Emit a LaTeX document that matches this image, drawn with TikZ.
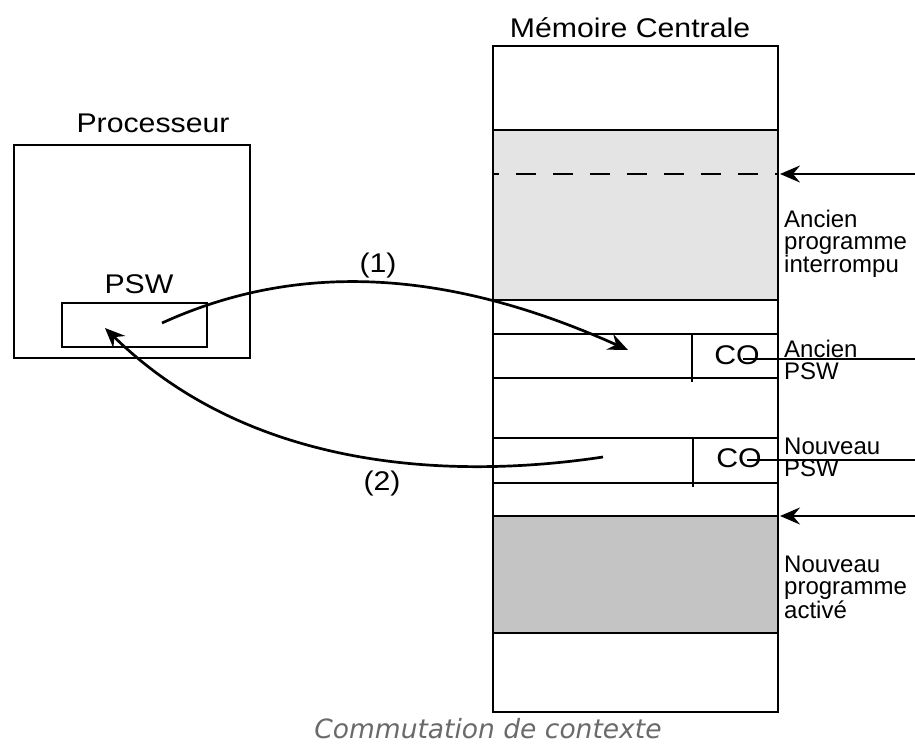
\documentclass[tikz,border=0pt]{standalone}
\usepackage{fontspec}
\setmainfont{Liberation Sans}
\newfontfamily\capfont{DejaVu Sans}
\usetikzlibrary{arrows.meta}

\definecolor{lightfill}{HTML}{E4E4E4}
\definecolor{darkfill}{HTML}{C4C4C4}
\definecolor{capgrey}{HTML}{6A6A6A}

\tikzset{
  wire/.style={line width=2.7pt, draw=black},
  tip/.style={-{Stealth[length=20pt,width=17pt,inset=7pt]}},
  biglabel/.style={inner sep=0pt, xscale=1.12, font=\fontsize{27}{30}\selectfont},
  sidelabel/.style={inner sep=0pt, align=left, anchor=north west,
    font=\fontsize{24}{22}\selectfont},
}

\begin{document}
\begin{tikzpicture}[x=1pt, y=-1pt]
\useasboundingbox (0,0) rectangle (915,745);

% ---- central memory ----
\fill[lightfill] (493,130) rectangle (778,300);
\fill[darkfill]  (493,516) rectangle (778,633);
\draw[wire] (493,46) rectangle (778,712);
\foreach \yy in {130,300,334,378,438,483,516,633}
  \draw[wire] (493,\yy) -- (778,\yy);
\draw[wire] (692,334) -- (692,382);
\draw[wire] (693,438) -- (693,487);
\draw[wire, dash pattern=on 20pt off 17pt, dash phase=14pt] (493,174) -- (778,174);

\node[biglabel, anchor=base] (mem) at (630,37) {Mémoire Centrale};

% program counters
\node[biglabel, anchor=base] (co1) at (737,364) {CO};
\node[biglabel, anchor=base] (co2) at (739,467) {CO};
\coordinate (co1r) at (743,359);
\coordinate (co2r) at (747,460);
\coordinate (e1) at (915,359);
\coordinate (e2) at (915,460);
\draw[wire] (co1r) -- (e1);
\draw[wire] (co2r) -- (e2);

% incoming pointers
\coordinate (in1) at (915,174);
\coordinate (p1) at (780,174);
\coordinate (in2) at (915,516);
\coordinate (p2) at (780,516);
\draw[wire, tip] (in1) -- (p1);
\draw[wire, tip] (in2) -- (p2);

% side labels
\node[sidelabel] (lab1) at (784,210) {Ancien\\programme\\interrompu};
\node[sidelabel] (lab2) at (784,340) {Ancien\\PSW};
\node[sidelabel] (lab3) at (784,438) {Nouveau\\PSW};
\node[sidelabel] (lab4) at (784,556) {Nouveau\\programme\\activé};

% ---- processor ----
\draw[wire] (14,145) rectangle (250,358);
\draw[wire] (62,303) rectangle (207,347);
\node[biglabel, anchor=base] (proc) at (153,132) {Processeur};
\node[biglabel, anchor=base] (psw) at (139,293) {PSW};

% ---- context switch transfers ----
\coordinate (s1) at (162,323);
\coordinate (t1) at (628,350);
\coordinate (s2) at (603,457);
\coordinate (t2) at (105,328);
\draw[wire, tip] (s1) .. controls (300,260) and (450,270) .. (t1);
\draw[wire, tip] (s2) .. controls (450,480) and (250,470) .. (t2);
\node[biglabel, anchor=base] (n1) at (378,272) {(1)};
\node[biglabel, anchor=base] (n2) at (382,490) {(2)};

% caption
\node[inner sep=0pt, anchor=base, text=capgrey,
      font=\capfont\itshape\fontsize{26.5}{30}\selectfont] (cap) at (488,738)
  {Commutation de contexte};
\end{tikzpicture}
\end{document}
